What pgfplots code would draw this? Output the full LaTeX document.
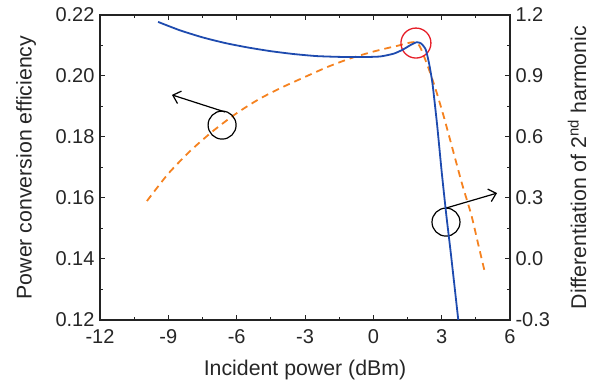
\documentclass[border=0pt]{standalone}
\usepackage{pgfplots}
\pgfplotsset{compat=1.18}
\usetikzlibrary{arrows.meta}
\usepackage{fontspec}
\setmainfont{Liberation Sans}
\definecolor{cblue}{RGB}{30,75,175}
\definecolor{corange}{RGB}{245,130,32}
\definecolor{cred}{RGB}{230,30,40}
\definecolor{caxis}{RGB}{35,35,35}
\newcommand{\ff}{\fontsize{20}{24}\selectfont}
\newcommand{\fl}{\fontsize{21.3}{25}\selectfont}
\begin{document}
\begin{tikzpicture}
\path[use as bounding box] (-100pt,-65pt) rectangle (503pt,320pt);
\pgfplotsset{
  every axis/.append style={
    scale only axis, width=410pt, height=305pt,
    axis line style={caxis, line width=1.1pt},
    every tick/.style={caxis, line width=1pt},
    major tick length=5pt, minor tick length=3pt,
    tick align=inside,
    tick label style={font=\ff, text=black!85},
    label style={font=\fl, text=black!85},
  }
}
\begin{axis}[
  at={(0,0)}, anchor=south west,
  xmin=-12, xmax=6, ymin=0.12, ymax=0.22,
  xtick={-12,-9,-6,-3,0,3,6},
  xticklabels={-12,-9,-6,-3,0,3,6},
  minor x tick num=1,
  ytick={0.12,0.14,0.16,0.18,0.20,0.22},
  yticklabels={0.12,0.14,0.16,0.18,0.20,0.22},
  minor y tick num=1,
  xtick pos=both, ytick pos=left,
  xticklabel style={yshift=-6pt},
  yticklabel style={xshift=-2pt},
  xlabel={Incident power (dBm)},
  ylabel={Power conversion efficiency},
  xlabel style={at={(axis description cs:0.5,0)}, anchor=center, yshift=-50pt},
  ylabel style={at={(axis description cs:0,0.5)}, anchor=center, yshift=74pt},
]
\addplot[corange, line width=1.8pt, dash pattern=on 7pt off 5pt, smooth, tension=0.4] coordinates {
(-9.94,0.1590) (-9,0.1680) (-8,0.1757) (-7,0.1822) (-6,0.1878) (-5,0.1925)
(-4,0.1963) (-3,0.1997) (-2,0.2030) (-1,0.2058) (0,0.2080) (1,0.2098)
(1.9,0.2110) (2.3,0.2050) (2.7,0.1965) (3.1,0.1865) (3.5,0.1755)
(3.9,0.1645) (4.3,0.1545) (4.6,0.1450) (4.9,0.1355)
};
\draw[black, line width=1.2pt] (axis cs:-6.64,0.1839) circle[radius=14pt];
\draw[black, line width=1.2pt, -{Straight Barb[length=7pt,width=13pt]}] (axis cs:-6.51,0.1882) -- (axis cs:-8.84,0.1938);
\draw[black, line width=1.2pt] (axis cs:3.19,0.1521) circle[radius=14pt];
\draw[black, line width=1.2pt, -{Straight Barb[length=7pt,width=13pt]}] (axis cs:3.19,0.1567) -- (axis cs:5.43,0.1616);
\draw[cred, line width=1.3pt] (axis cs:1.87,0.2108) circle[radius=15pt];
\end{axis}
\begin{axis}[
  at={(0,0)}, anchor=south west,
  xmin=-12, xmax=6, ymin=-0.3, ymax=1.2,
  axis x line=none, axis y line*=right,
  ytick={-0.3,0,0.3,0.6,0.9,1.2},
  yticklabels={-0.3,0.0,0.3,0.6,0.9,1.2},
  minor y tick num=1,
  yticklabel style={xshift=2pt},
  ylabel={Differentiation of 2\textsuperscript{nd} harmonic},
  ylabel style={at={(axis description cs:1,0.5)}, anchor=center, yshift=-67pt},
]
\addplot[cblue, line width=1.8pt, smooth, tension=0.35] coordinates {
(-9.45,1.166) (-8.5,1.125) (-7.5,1.090) (-6.5,1.062) (-5.5,1.040) (-4.5,1.022)
(-3.5,1.008) (-2.5,0.998) (-1.5,0.994) (-0.5,0.993) (0.3,0.996) (0.9,1.010)
(1.3,1.030) (1.6,1.050) (1.9,1.066) (2.1,1.060) (2.3,1.030) (2.45,0.96)
(2.6,0.86) (2.8,0.66) (3.0,0.43) (3.2,0.22) (3.4,0.03) (3.6,-0.17) (3.8,-0.37)
};
\end{axis}
\end{tikzpicture}
\end{document}
